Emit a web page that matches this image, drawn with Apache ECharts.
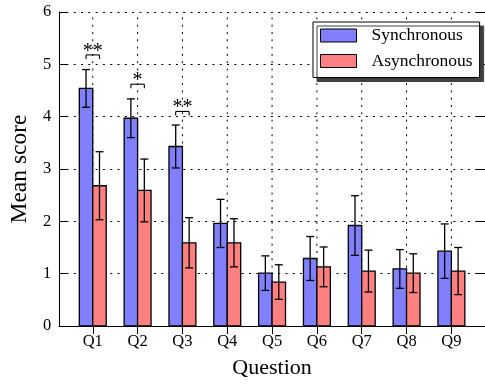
<!DOCTYPE html>
<html>
<head>
<meta charset="utf-8">
<script src="https://cdn.jsdelivr.net/npm/echarts@6/dist/echarts.min.js"></script>
<style>html,body{margin:0;padding:0;background:#fff}#c{width:485px;height:385px}</style>
</head>
<body>
<div id="c"></div>
<script>
const categories = ['Q1','Q2','Q3','Q4','Q5','Q6','Q7','Q8','Q9'];
const syncMean = [4.54, 3.97, 3.43, 1.96, 1.01, 1.29, 1.92, 1.09, 1.43];
const syncErr  = [0.36, 0.37, 0.41, 0.46, 0.33, 0.42, 0.57, 0.37, 0.52];
const asyncMean = [2.68, 2.59, 1.59, 1.59, 0.84, 1.13, 1.05, 1.01, 1.05];
const asyncErr  = [0.65, 0.60, 0.48, 0.46, 0.33, 0.38, 0.40, 0.37, 0.45];
const sigIndex = [0, 1, 2];
const sigLevel = [5.18, 4.62, 4.10];
const sigLabel = ['**', '*', '**'];

const FONT = 'Liberation Serif';
const BLUE = '#8080ff', RED = '#ff8080';
const BW = 0.3;
const catPos = categories.map((c, i) => i + 1);

const chart = echarts.init(document.getElementById('c'), null, {renderer: 'canvas'});

function barItem(offset, color) {
  return function (params, api) {
    const x = api.value(0), y = api.value(1), e = api.value(2);
    const a = api.coord([x + offset, y]);
    const b = api.coord([x + offset + BW, 0]);
    const cx = api.coord([x + offset + BW / 2, 0])[0];
    const top = api.coord([x, y + e])[1];
    const bot = api.coord([x, y - e])[1];
    const cw = 4;
    const ls = {stroke: '#000', lineWidth: 1.3};
    return {
      type: 'group',
      children: [
        {type: 'rect', shape: {x: a[0], y: a[1], width: b[0] - a[0], height: b[1] - a[1]},
         style: {fill: color, stroke: '#000', lineWidth: 1.3}},
        {type: 'line', shape: {x1: cx, y1: top, x2: cx, y2: bot}, style: ls},
        {type: 'line', shape: {x1: cx - cw, y1: top, x2: cx + cw, y2: top}, style: ls},
        {type: 'line', shape: {x1: cx - cw, y1: bot, x2: cx + cw, y2: bot}, style: ls}
      ]
    };
  };
}

const syncData = catPos.map((x, i) => [x, syncMean[i], syncErr[i]]);
const asyncData = catPos.map((x, i) => [x, asyncMean[i], asyncErr[i]]);
const sigData = sigIndex.map((ci, k) => [catPos[ci], sigLevel[k]]);
const gridData = catPos.map(x => [x, 0]);

const option = {
  animation: false,
  backgroundColor: '#fff',
  textStyle: {fontFamily: FONT},
  grid: {left: 58, top: 12, width: 431, height: 314, containLabel: false},
  legend: {
    orient: 'vertical',
    left: 313, top: 22,
    padding: [4.5, 7, 7.5, 7],
    itemGap: 7.5,
    itemWidth: 36, itemHeight: 13,
    backgroundColor: '#fff',
    borderColor: '#000', borderWidth: 1,
    shadowColor: '#404040', shadowOffsetX: 4, shadowOffsetY: 4, shadowBlur: 0,
    textStyle: {fontFamily: FONT, fontSize: 17.5, color: '#000', padding: [0, 0, 0, 10]},
    data: [
      {name: 'Synchronous', icon: 'rect', itemStyle: {color: BLUE, borderColor: '#000', borderWidth: 1}},
      {name: 'Asynchronous', icon: 'rect', itemStyle: {color: RED, borderColor: '#000', borderWidth: 1}}
    ]
  },
  xAxis: [
    {
      type: 'value', position: 'bottom', min: 0.25, max: 9.75,
      name: 'Question', nameLocation: 'middle', nameGap: 31,
      nameTextStyle: {fontFamily: FONT, fontSize: 22, color: '#000'},
      axisLine: {show: true, lineStyle: {color: '#000', width: 1}},
      axisTick: {show: true, inside: true, length: 8, customValues: catPos, lineStyle: {color: '#000'}},
      axisLabel: {show: true, customValues: catPos, margin: 7, fontFamily: FONT, fontSize: 16.5, color: '#000',
                  formatter: v => categories[Math.round(v) - 1]},
      splitLine: {show: false}
    },
    {
      type: 'value', position: 'top', min: 0.25, max: 9.75,
      axisLine: {show: true, lineStyle: {color: '#000', width: 1}},
      axisTick: {show: true, inside: true, length: 8, customValues: catPos, lineStyle: {color: '#000'}},
      axisLabel: {show: false},
      splitLine: {show: false}
    }
  ],
  yAxis: [
    {
      type: 'value', position: 'left', min: 0, max: 6, interval: 1,
      name: 'Mean score', nameLocation: 'middle', nameGap: 23,
      nameTextStyle: {fontFamily: FONT, fontSize: 23.5, color: '#000'},
      axisLine: {show: true, lineStyle: {color: '#000', width: 1}},
      axisTick: {show: true, inside: true, length: 8, lineStyle: {color: '#000'}},
      axisLabel: {margin: 8, fontFamily: FONT, fontSize: 16.5, color: '#000', formatter: v => String(v)},
      splitLine: {show: true, lineStyle: {color: '#000', width: 1, type: [2, 5.3]}}
    },
    {
      type: 'value', position: 'right', min: 0, max: 6, interval: 1,
      axisLine: {show: true, lineStyle: {color: '#000', width: 1}},
      axisTick: {show: true, inside: true, length: 8, lineStyle: {color: '#000'}},
      axisLabel: {show: false},
      splitLine: {show: false}
    }
  ],
  series: [
    {
      name: 'vgrid', type: 'custom', z: 1, silent: true,
      data: gridData,
      renderItem: function (params, api) {
        const x = api.value(0);
        const p0 = api.coord([x, 0]);
        const p1 = api.coord([x, 6]);
        return {type: 'line', shape: {x1: p0[0], y1: p0[1], x2: p1[0], y2: p1[1]},
                style: {stroke: '#000', lineWidth: 1, lineDash: [2, 5.3]}};
      }
    },
    {
      name: 'Synchronous', type: 'custom', z: 3, itemStyle: {color: BLUE},
      data: syncData, renderItem: barItem(-BW, BLUE)
    },
    {
      name: 'Asynchronous', type: 'custom', z: 3, itemStyle: {color: RED},
      data: asyncData, renderItem: barItem(0, RED)
    },
    {
      name: 'sig', type: 'custom', z: 4, clip: false,
      data: sigData,
      renderItem: function (params, api) {
        const x = api.value(0), y = api.value(1);
        const lab = sigLabel[params.dataIndex];
        const l = api.coord([x - BW / 2, y]);
        const r = api.coord([x + BW / 2, y]);
        const ls = {stroke: '#000', lineWidth: 1.1};
        return {
          type: 'group',
          children: [
            {type: 'line', shape: {x1: l[0], y1: l[1], x2: r[0], y2: r[1]}, style: ls},
            {type: 'line', shape: {x1: l[0], y1: l[1], x2: l[0], y2: l[1] + 4}, style: ls},
            {type: 'line', shape: {x1: r[0], y1: r[1], x2: r[0], y2: r[1] + 4}, style: ls},
            {type: 'text', x: (l[0] + r[0]) / 2, y: l[1] - 3.5,
             style: {text: lab, fontFamily: FONT, fontSize: 20, fill: '#000', align: 'center', verticalAlign: 'middle'}}
          ]
        };
      }
    }
  ]
};
chart.setOption(option);
</script>
</body>
</html>
